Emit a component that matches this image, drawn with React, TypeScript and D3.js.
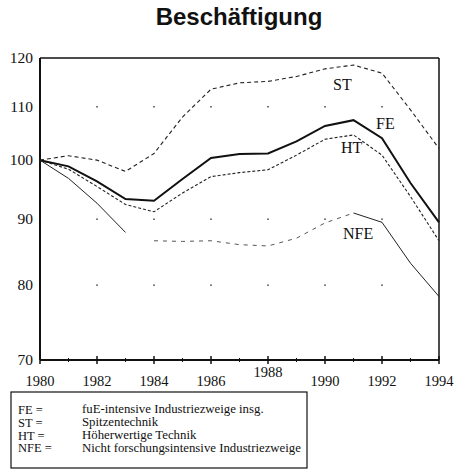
import React from 'react';
import * as d3 from 'd3';

const years = [1980, 1981, 1982, 1983, 1984, 1985, 1986, 1987, 1988, 1989, 1990, 1991, 1992, 1993, 1994];
const feValues = [100, 98.9, 96.3, 93.3, 93.0, 96.7, 100.4, 101.1, 101.2, 103.4, 106.3, 107.4, 104.0, 96.0, 89.5];
const stValues = [100, 100.8, 100, 98.0, 101.2, 108.0, 113.5, 114.8, 115.1, 116.1, 117.7, 118.5, 116.8, 109.4, 102.1];
const htValues = [100, 98.4, 95.4, 92.4, 91.2, 94.3, 97.1, 97.8, 98.3, 100.9, 103.8, 104.6, 100.9, 93.7, 86.6];
const nfeValues = [100, 96.8, 92.6, 87.9, 86.6, 86.5, 86.6, 86.0, 85.8, 87.0, 89.4, 91.0, 89.5, 83.2, 78.4];

const yTicks = [70, 80, 90, 100, 110, 120];
const xTicks = [1980, 1982, 1984, 1986, 1988, 1990, 1992, 1994];
const gridYears = [1982, 1984, 1986, 1988, 1990, 1992];
const gridValues = [80, 90, 110];

const legendKeys = ['FE =', 'ST =', 'HT =', 'NFE ='];
const legendTexts = [
  'fuE-intensive Industriezweige insg.',
  'Spitzentechnik',
  'Höherwertige Technik',
  'Nicht forschungsintensive Industriezweige',
];

const serif = '"Liberation Serif", "DejaVu Serif", serif';

export default function App() {
  const x = d3.scaleLinear().domain([1980, 1994]).range([40, 439]);
  const y = d3.scaleLog().domain([70, 120]).range([360, 58]);

  const pts = (vals: number[]) => years.map((yr, i) => [yr, vals[i]] as [number, number]);
  const line = d3.line<[number, number]>().x(d => x(d[0])).y(d => y(d[1]));

  const nfe = pts(nfeValues);

  return (
    <svg width={459} height={470} style={{ position: 'absolute', left: 0, top: 0, background: '#fff' }}>
      <text x={239} y={25} textAnchor="middle" fontFamily='"Liberation Sans", Arial, sans-serif'
        fontWeight="bold" fontSize={24} fill="#111">Beschäftigung</text>

      {/* grid dots */}
      {gridYears.flatMap(yr => gridValues.map(v => (
        <rect key={`${yr}-${v}`} x={x(yr) - 0.75} y={y(v) - 0.75} width={1.5} height={1.5} fill="#444" />
      )))}

      {/* frame */}
      <line x1={x(1980)} x2={x(1994)} y1={y(120)} y2={y(120)} stroke="#111" strokeWidth={1.5} />
      <line x1={x(1994)} x2={x(1994)} y1={y(120)} y2={y(70)} stroke="#111" strokeWidth={1.5} />
      <line x1={x(1980)} x2={x(1980)} y1={y(120)} y2={y(70)} stroke="#111" strokeWidth={2} />
      <line x1={x(1980)} x2={x(1994)} y1={y(70)} y2={y(70)} stroke="#111" strokeWidth={2} />

      {years.map(yr => {
        const major = yr % 2 === 0;
        return <line key={yr} x1={x(yr)} x2={x(yr)} y1={y(70) - (major ? 4 : 2)} y2={y(70) + (major ? 4 : 2)}
          stroke="#111" strokeWidth={major ? 1.5 : 1} />;
      })}

      {yTicks.map(v => (
        <text key={v} x={33} y={y(v) + 5} textAnchor="end" fontFamily={serif} fontSize={15.5} fill="#111">{v}</text>
      ))}
      {xTicks.map(yr => (
        <text key={yr} x={x(yr)} y={yr === 1988 ? 377 : 386} textAnchor="middle" fontFamily={serif}
          fontSize={14.5} fill="#111">{yr}</text>
      ))}

      {/* series */}
      <path d={line(pts(stValues)) || ''} fill="none" stroke="#222" strokeWidth={1.1} strokeDasharray="4,3" />
      <path d={line(pts(htValues)) || ''} fill="none" stroke="#222" strokeWidth={1.1} strokeDasharray="3,2" />
      <path d={line(pts(feValues)) || ''} fill="none" stroke="#111" strokeWidth={2} />
      <path d={line(nfe.slice(0, 4)) || ''} fill="none" stroke="#222" strokeWidth={1} />
      <path d={line(nfe.slice(4, 12)) || ''} fill="none" stroke="#555" strokeWidth={1} strokeDasharray="4,5" />
      <path d={line(nfe.slice(11)) || ''} fill="none" stroke="#222" strokeWidth={1} />

      <text x={333} y={90} fontFamily={serif} fontSize={16} fill="#111">ST</text>
      <text x={376} y={129} fontFamily={serif} fontSize={16} fill="#111">FE</text>
      <text x={341} y={153} fontFamily={serif} fontSize={16} fill="#111">HT</text>
      <text x={343} y={239} fontFamily={serif} fontSize={16} fill="#111">NFE</text>

      {/* legend */}
      <rect x={11} y={392} width={296} height={76} fill="none" stroke="#111" strokeWidth={1.2} />
      {legendKeys.map((k, i) => (
        <text key={k} x={18} y={414 + i * 12.8} fontFamily={serif} fontSize={12.5} fill="#111">{k}</text>
      ))}
      {legendTexts.map((t, i) => (
        <text key={t} x={82} y={412.5 + i * 13} fontFamily={serif} fontSize={12.8} fill="#111">{t}</text>
      ))}
    </svg>
  );
}
